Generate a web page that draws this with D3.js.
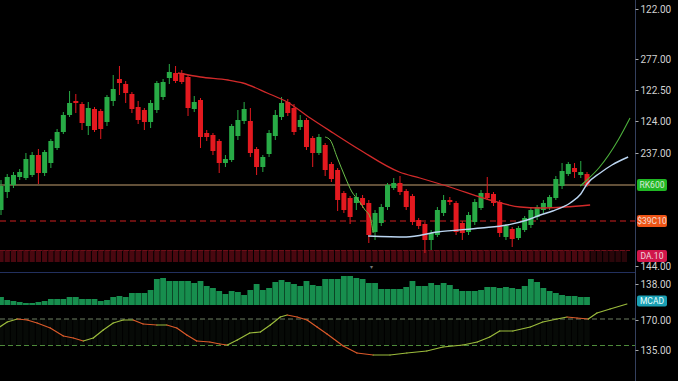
<!DOCTYPE html>
<html>
<head>
<meta charset="utf-8">
<style>
  html, body { margin: 0; padding: 0; background: #000; }
  svg { display: block; }
  text { font-family: Roboto, "Liberation Sans", sans-serif; }
</style>
</head>
<body>
<svg id="chart" width="678" height="381"></svg>
<script src="https://d3js.org/d3.v7.min.js"></script>
<script>
// ---- data ----
const opens = [90,108,115,123,122,125,145,127,137,152, 168,185,199,196,174,191,189,178,199,221,
  216,206,193,190,178,190,203,222,227,227, 223,191,200,167,165,159,137,140,164,179,
  179,151,133,146,164,183,198,192,173,180, 162,147,155,136,130,107,102,97,102,97,
  68,77,93,112,117,109,104,80,76,60, 65,87,100,97,77,68,78,92,107,106,
  98,63,71,62,70,75,83,90,93,102, 114,126,132,125,126]
const highs = [120,126,128,131,147,148,151,150,161,171, 188,209,206,198,198,193,191,205,225,234,
  219,208,199,192,200,219,221,236,234,230, 225,204,202,170,167,161,145,176,190,198,
  192,153,145,170,190,203,201,196,185,182, 164,166,157,138,132,109,104,107,105,100,
  90,96,117,122,124,111,106,82,78,70, 93,105,103,99,79,88,101,110,123,108,
  100,76,73,74,84,92,95,100,105,124, 137,138,137,139,128]
const lows = [85,102,112,120,120,123,116,124,132,150, 166,183,187,170,165,168,161,174,194,205,
  197,187,176,170,172,187,200,216,217,216, 184,188,152,159,145,127,133,138,160,176,
  143,125,128,143,160,180,184,165,170,150, 133,145,124,118,89,87,76,90,92,57,
  60,74,90,110,105,90,75,71,47,50, 63,84,95,65,60,65,75,90,100,94,
  63,60,53,60,68,72,80,87,90,100, 111,124,122,122,113]
const closes = [114,123,125,128,141,145,127,148,159,168, 185,197,197,177,192,170,171,203,211,217,
  207,191,180,178,197,217,218,228,219,218, 192,198,163,163,149,137,141,174,180,191,
  147,133,143,167,185,197,187,168,180,153, 147,163,130,121,100,90,83,103,95,65,
  87,93,115,117,108,93,78,74,60,67, 90,100,98,68,67,85,98,107,102,97,
  67,74,61,72,82,90,93,97,103,121, 129,136,128,128,115]
const volumes = [8,5,4,3,2,2,3,4,6,6, 6,8,8,6,6,6,4,5,8,9, 8,12,12,12,15,26,27,24,24,24,
  24,22,24,19,17,14,11,14,13,10, 15,21,15,17,23,25,23,21,19,24, 20,19,26,26,
  26,29,29,27,26,22,22,16,16,16, 16,18,24,19,19,22,20,22,20,16,
  14,14,14,15,18,18,17,18,17,16, 19,26,23,17,14,12,10,9,9,8,8]

// moving averages as [bar index, price]
const maSlow = [[28.4,227],[32,223],[36.4,220],[38.8,217],[42.7,207],[45.9,198],[49.6,182],[53.3,167],
  [57.6,150],[63.9,128],[67.2,122],[72,113],[78.4,100],[83.3,93],[86.5,92],[90.5,93],[94.5,95]]
const maFastA = [[52,163],[52.8,160],[53.9,143],[55.2,123],[56.3,108],[57.3,100],[58.4,90],[59.2,83],[59.7,67]]
const maFastB = [[92.9,114],[94,120],[95.9,132],[99,160],[100.9,182]]
const maMid = [[58.9,64],[65,63],[70,68],[77,72],[81.2,75],[84.4,80],[86.5,85],[88.5,89],[91.3,97],
  [93,106],[94,116],[96.1,127],[98,135],[100.6,143]]

// MACD as [bar index, value]
const macd = [[-0.2,0.5],[1,1.0],[2.6,1.3],[4.2,1.2],[5.8,0.9],[7.9,0.4],[10,-0.4],[11.6,-0.6],[13.2,-0.9],
  [14.8,-0.6],[16.4,0.2],[18,0.9],[19.6,1.2],[21.2,1.2],[22.8,0.8],[25,0.7],[26.6,0.7],[28.2,0.4],
  [29.8,-0.3],[31.4,-0.9],[33.5,-1.0],[35.1,-1.2],[36.3,-1.3],[37.9,-0.8],[39.9,-0.1],[41.6,0.0],
  [43.2,0.7],[44.8,1.5],[45.9,1.7],[47.5,1.5],[49.1,1.2],[50.7,0.5],[52.3,-0.2],[54.9,-1.4],
  [57.1,-2.1],[59.7,-2.3],[62.4,-2.3],[65.1,-2.1],[68.3,-1.9],[70.9,-1.5],[74.1,-1.3],[76.4,-1.0],
  [78.4,-0.5],[80,0.1],[82.1,0.1],[84.9,0.5],[86.9,1.0],[89.2,1.3],[90.8,1.5],[92.4,1.4],[94.2,1.3],
  [95.6,1.9],[97.7,2.3],[100.4,2.8]]
const macdLevels = [1.3, -1.35]

// reference levels and tags
const levelSupport = 115
const levelDashed = 79
const bandRange = [38, 50]
const tagTexts = ["RK600", "$39C10", "DA.10"]
const tagPrices = [115, 79, 44]
const macdTagText = "MCAD"
const macdTagValue = 3.1

// right axis labels
const priceTicks = [291, 241, 210, 179, 147, 34]
const priceLabels = ["122.00", "277.00", "122.50", "124.00", "237.00", "144.00"]
const volTicks = [21]
const volLabels = ["138.00"]
const macdTicks = [1.2, -1.8]
const macdLabels = ["170.00", "135.00"]

// ---- styles ----
const UP = "#28ab46", DOWN = "#e3191f"
const tagColors = ["#20b824", "#ee5416", "#d0164a"]
const plotRight = 635

const svg = d3.select("#chart")
svg.append("rect").attr("width", 678).attr("height", 381).attr("fill", "#000")

const x = d3.scaleLinear().domain([0, 94]).range([1, 587])
const yPrice = d3.scaleLinear().domain([30, 300]).range([270, 0])
const yVol = d3.scaleLinear().domain([0, 33]).range([305, 272])
const yMacd = d3.scaleLinear().domain([-4.9, 7.2]).range([381, 260])

svg.append("clipPath").attr("id", "plot")
  .append("rect").attr("x", 0).attr("y", 0).attr("width", plotRight).attr("height", 381)
const plot = svg.append("g").attr("clip-path", "url(#plot)")

const idx = d3.range(opens.length)

// dark band
plot.append("g").selectAll("rect").data(d3.range(0, 101)).enter().append("rect")
  .attr("x", i => x(i) - 2.6)
  .attr("width", 5.2)
  .attr("y", yPrice(bandRange[1]))
  .attr("height", yPrice(bandRange[0]) - yPrice(bandRange[1]))
  .attr("fill", i => i > 94 ? "#2a060a" : "#4a0810")
plot.append("line")
  .attr("x1", 0).attr("x2", plotRight - 5)
  .attr("y1", yPrice(bandRange[1]) + 0.5).attr("y2", yPrice(bandRange[1]) + 0.5)
  .attr("stroke", "#6e0e18").attr("stroke-width", 1).attr("stroke-dasharray", "5,1.2")

// horizontal levels
plot.append("line")
  .attr("x1", 0).attr("x2", plotRight)
  .attr("y1", yPrice(levelSupport)).attr("y2", yPrice(levelSupport))
  .attr("stroke", "#c4a070").attr("stroke-width", 1)
plot.append("line")
  .attr("x1", 0).attr("x2", plotRight)
  .attr("y1", yPrice(levelDashed)).attr("y2", yPrice(levelDashed))
  .attr("stroke", "#d02020").attr("stroke-width", 1.2).attr("stroke-dasharray", "6,4")

// candles
const candles = plot.append("g").selectAll("g").data(idx).enter().append("g")
candles.append("line")
  .attr("x1", i => x(i)).attr("x2", i => x(i))
  .attr("y1", i => yPrice(highs[i])).attr("y2", i => yPrice(lows[i]))
  .attr("stroke", i => closes[i] >= opens[i] ? UP : DOWN).attr("stroke-width", 1)
candles.append("rect")
  .attr("x", i => x(i) - 2.5)
  .attr("width", 5)
  .attr("y", i => yPrice(Math.max(opens[i], closes[i])))
  .attr("height", i => Math.max(1.5, Math.abs(yPrice(opens[i]) - yPrice(closes[i]))))
  .attr("fill", i => closes[i] >= opens[i] ? UP : DOWN)

// moving averages
const priceLine = d3.line().x(d => x(d[0])).y(d => yPrice(d[1])).curve(d3.curveMonotoneX)
plot.append("path").datum(maSlow).attr("d", priceLine)
  .attr("fill", "none").attr("stroke", "#d22a2a").attr("stroke-width", 1.3)
plot.append("path").datum(maMid).attr("d", priceLine)
  .attr("fill", "none").attr("stroke", "#bcd6f2").attr("stroke-width", 1.4)
plot.append("path").datum(maFastA).attr("d", priceLine)
  .attr("fill", "none").attr("stroke", "#6cbf4a").attr("stroke-width", 1)
plot.append("path").datum(maFastB).attr("d", priceLine)
  .attr("fill", "none").attr("stroke", "#4cb03c").attr("stroke-width", 1.1)

// small marker under the band
plot.append("text").attr("x", x(59.5)).attr("y", 269)
  .attr("text-anchor", "middle").attr("font-size", 6).attr("fill", "#777").text("▾")

// panel separator
svg.append("line").attr("x1", 0).attr("x2", plotRight).attr("y1", 272.5).attr("y2", 272.5)
  .attr("stroke", "#22305e").attr("stroke-width", 1)

// volume
plot.append("g").selectAll("rect").data(idx).enter().append("rect")
  .attr("x", i => x(i) - 2.9)
  .attr("width", 5.8)
  .attr("y", i => yVol(volumes[i]))
  .attr("height", i => yVol(0) - yVol(volumes[i]))
  .attr("fill", "#178e4e")

// macd panel
plot.append("g").selectAll("rect").data(idx).enter().append("rect")
  .attr("x", i => x(i) - 2.6)
  .attr("width", 5.2)
  .attr("y", yMacd(macdLevels[0]))
  .attr("height", yMacd(macdLevels[1]) - yMacd(macdLevels[0]))
  .attr("fill", "#070a07")
plot.append("line")
  .attr("x1", 0).attr("x2", plotRight)
  .attr("y1", yMacd(macdLevels[0])).attr("y2", yMacd(macdLevels[0]))
  .attr("stroke", "#6f7f62").attr("stroke-width", 1).attr("stroke-dasharray", "5,3")
plot.append("line")
  .attr("x1", 0).attr("x2", plotRight)
  .attr("y1", yMacd(macdLevels[1])).attr("y2", yMacd(macdLevels[1]))
  .attr("stroke", "#4e8a3a").attr("stroke-width", 1).attr("stroke-dasharray", "5,3")

const segs = d3.pairs(macd)
plot.append("g").selectAll("line").data(segs).enter().append("line")
  .attr("x1", s => x(s[0][0])).attr("y1", s => yMacd(s[0][1]))
  .attr("x2", s => x(s[1][0])).attr("y2", s => yMacd(s[1][1]))
  .attr("stroke", s => s[1][1] >= s[0][1] ? "#9cbc3c" : "#dc5a2a")
  .attr("stroke-width", 1.2).attr("stroke-linecap", "round")

// right axis
svg.append("line").attr("x1", plotRight + 0.5).attr("x2", plotRight + 0.5).attr("y1", 0).attr("y2", 381)
  .attr("stroke", "#34405e").attr("stroke-width", 1)

function styleAxis(g) {
  g.select(".domain").remove()
  g.selectAll(".tick line").attr("stroke", "#aaa")
  g.selectAll(".tick text").attr("fill", "#d2d2d2").attr("font-size", 10)
    .attr("font-family", "Roboto, 'Liberation Sans', sans-serif")
}
svg.append("g").attr("transform", `translate(${plotRight + 0.5},0)`)
  .call(d3.axisRight(yPrice).tickValues(priceTicks).tickSize(3).tickPadding(2)
    .tickFormat((d, i) => priceLabels[i]))
  .call(styleAxis)
svg.append("g").attr("transform", `translate(${plotRight + 0.5},0)`)
  .call(d3.axisRight(yVol).tickValues(volTicks).tickSize(3).tickPadding(2)
    .tickFormat((d, i) => volLabels[i]))
  .call(styleAxis)
svg.append("g").attr("transform", `translate(${plotRight + 0.5},0)`)
  .call(d3.axisRight(yMacd).tickValues(macdTicks).tickSize(3).tickPadding(2)
    .tickFormat((d, i) => macdLabels[i]))
  .call(styleAxis)

// value tags
const tags = svg.append("g").selectAll("g").data(tagTexts).enter().append("g")
  .attr("transform", (d, i) => `translate(637,${yPrice(tagPrices[i])})`)
tags.append("rect").attr("x", 0).attr("y", -6).attr("width", 30).attr("height", 12).attr("rx", 2)
  .attr("fill", (d, i) => tagColors[i])
tags.append("text").attr("x", 15).attr("y", 3.2).attr("text-anchor", "middle")
  .attr("font-size", 8.5).attr("fill", "#f4f4f4").attr("opacity", 0.85).text(d => d)

const mt = svg.append("g").attr("transform", `translate(637,${yMacd(macdTagValue)})`)
mt.append("rect").attr("x", 0).attr("y", -5.5).attr("width", 30).attr("height", 11).attr("rx", 2)
  .attr("fill", "#1aa0b4")
mt.append("text").attr("x", 15).attr("y", 3).attr("text-anchor", "middle")
  .attr("font-size", 8.5).attr("fill", "#e8ffff").text(macdTagText)
</script>
</body>
</html>
